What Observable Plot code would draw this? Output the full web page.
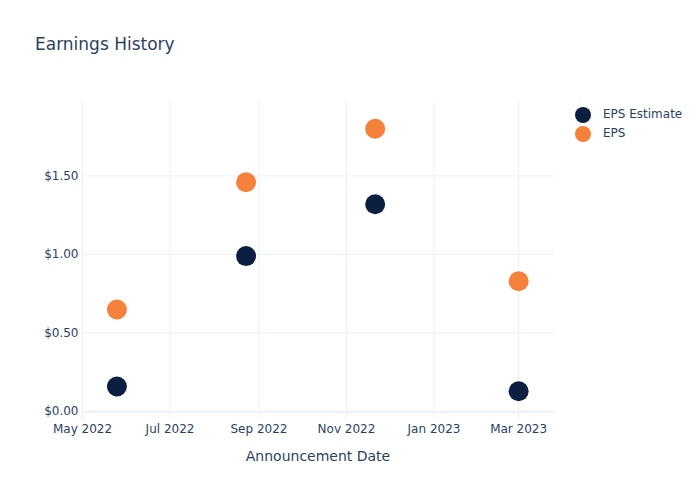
<!DOCTYPE html>
<html>
<head>
<meta charset="utf-8">
<script src="https://cdn.jsdelivr.net/npm/d3@7"></script>
<script src="https://cdn.jsdelivr.net/npm/@observablehq/plot@0.6"></script>
<style>
  body { margin: 0; background: white; }
  #wrap { position: relative; width: 700px; height: 500px; font-family: "DejaVu Sans", sans-serif; color: #2a3f5f; }
  #chart { position: absolute; left: 0; top: 0; }
  .title { position: absolute; left: 35px; top: 33px; font-size: 17px; line-height: 22px; white-space: nowrap; }
  .xlabel { position: absolute; left: 0; width: 636px; text-align: center; top: 447px; font-size: 14px; line-height: 18px; white-space: nowrap; }
  .legend { position: absolute; left: 575px; top: 105px; font-size: 12px; }
  .legend .item { position: relative; height: 19px; line-height: 19px; white-space: nowrap; }
  .legend .sw { position: absolute; left: 0; top: 1.5px; width: 16px; height: 16px; border-radius: 50%; }
  .legend .lb { position: absolute; left: 28px; top: 0; }
</style>
</head>
<body>
<div id="wrap">
  <div id="chart"></div>
  <div class="title">Earnings History</div>
  <div class="xlabel" id="xlabel"></div>
  <div class="legend" id="legend"></div>
</div>
<script>
const dates = ["2022-05-25", "2022-08-23", "2022-11-21", "2023-03-01"];
const epsEstimate = [0.16, 0.99, 1.32, 0.13];
const eps = [0.65, 1.46, 1.80, 0.83];
const seriesNames = ["EPS Estimate", "EPS"];
const seriesColors = ["#0c1f41", "#f5813a"];
const yTicks = [0, 0.5, 1, 1.5];
const xTicks = ["2022-05-01", "2022-07-01", "2022-09-01", "2022-11-01", "2023-01-01", "2023-03-01"];
const xTitle = "Announcement Date";

const rows = [];
[epsEstimate, eps].forEach((vals, s) => {
  vals.forEach((v, i) => rows.push({date: new Date(dates[i]), value: v, series: seriesNames[s]}));
});
const xTickDates = xTicks.map(d => new Date(d));
const grid = "#ebf0f8";

const chart = Plot.plot({
  width: 700,
  height: 500,
  marginLeft: 82,
  marginRight: 146,
  marginTop: 100,
  marginBottom: 81,
  style: {fontFamily: "DejaVu Sans, sans-serif", fontSize: "12px", color: "#2a3f5f", background: "white"},
  x: {type: "utc", domain: [new Date("2022-05-01T00:00Z"), new Date("2023-03-26T00:00Z")]},
  y: {domain: [-0.05, 1.98]},
  color: {domain: seriesNames, range: seriesColors},
  marks: [
    Plot.ruleX(xTickDates, {x: d => d, stroke: grid, strokeWidth: 1}),
    Plot.ruleY(yTicks.filter(d => d !== 0), {y: d => d, stroke: grid, strokeWidth: 1}),
    Plot.ruleY([0], {y: d => d, stroke: grid, strokeWidth: 2}),
    Plot.axisX({ticks: xTickDates, tickFormat: d3.utcFormat("%b %Y"), tickSize: 0, tickPadding: 5, label: null}),
    Plot.axisY({ticks: yTicks, tickFormat: d => "$" + d3.format(".2f")(d), tickSize: 0, tickPadding: 4, label: null}),
    Plot.dot(rows, {x: "date", y: "value", fill: "series", r: 10, stroke: null})
  ]
});
document.getElementById("chart").appendChild(chart);
document.getElementById("xlabel").textContent = xTitle;
const lg = document.getElementById("legend");
seriesNames.forEach((n, i) => {
  const it = document.createElement("div");
  it.className = "item";
  it.innerHTML = `<span class="sw" style="background:${seriesColors[i]}"></span><span class="lb"></span>`;
  it.querySelector(".lb").textContent = n;
  lg.appendChild(it);
});
</script>
</body>
</html>
